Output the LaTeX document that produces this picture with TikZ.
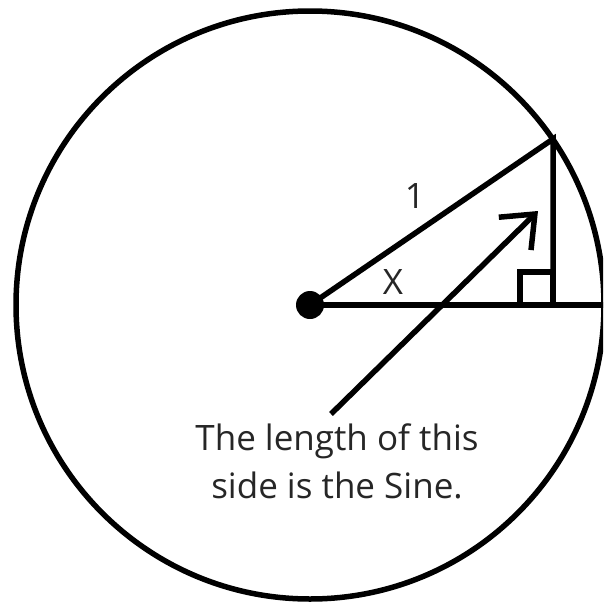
\documentclass[tikz,border=0pt]{standalone}
\usepackage{fontspec}
\setmainfont{Open Sans}
\usetikzlibrary{positioning,arrows.meta,calc}

\begin{document}
\begin{tikzpicture}[
  x=1pt, y=-1pt,
  font=\fontsize{35}{48}\selectfont,
  ln/.style={line width=5.5pt, black},
  lbl/.style={text=black!85, inner sep=0pt},
  ar/.style={ln, -{Straight Barb[length=28pt, width=46pt]}},
]
  \clip (0,0) rectangle (603,605);
  \useasboundingbox (0,0) rectangle (603,605);

  \coordinate (O) at (310,305);
  \coordinate (P) at (553,139);
  \coordinate (F) at (553,305);
  \coordinate (E) at (610,305);

  % unit circle
  \draw[ln] (O) circle[radius=294];

  % triangle
  \draw[ln] (O) -- (P) -- (F);
  \draw[ln] (O) -- (E);
  \draw[ln] ($(F)+(-33,0)$) rectangle ($(F)+(0,-33)$);
  \fill (O) circle[radius=14];

  \node[lbl] (one) at (415,196) {1};
  \node[lbl] (ang) at (393,282) {X};

  % note
  \node[lbl, align=center, anchor=north] (note) at (337,424)
        {The length of this\\side is the Sine.};
  \coordinate (tip) at (538,211);
  \draw[ar] ([shift={(-6,-10)}]note.north) -- (tip);
\end{tikzpicture}
\end{document}
